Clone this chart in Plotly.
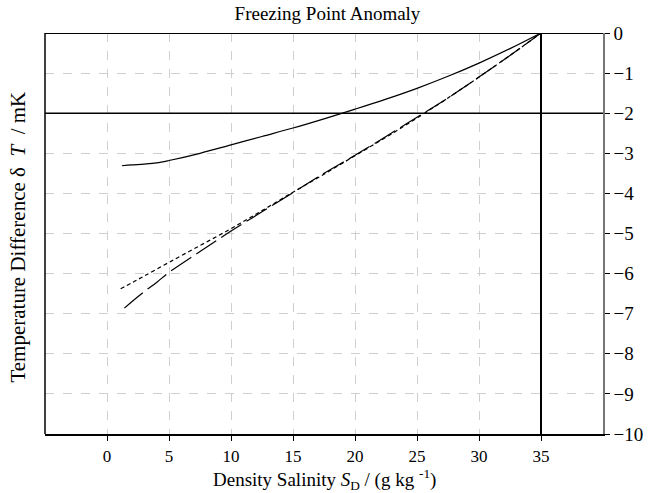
import plotly.graph_objects as go

# Data
x_solid = [1.2, 2, 3, 4, 5, 7.5, 10, 12.5, 15, 17.5, 20, 22.5, 25, 27.5, 30, 32.5, 35]
y_solid = [-3.31, -3.29, -3.27, -3.24, -3.18, -3.0, -2.79, -2.58, -2.37, -2.14, -1.90, -1.65, -1.38, -1.08, -0.75, -0.39, 0.0]

x_short = [1.1, 2, 3, 5, 7.5, 10, 12.5, 15, 17.5, 20, 22.5, 25, 27.5, 30, 32.5, 35]
y_short = [-6.38, -6.23, -6.06, -5.72, -5.30, -4.88, -4.43, -3.97, -3.52, -3.06, -2.60, -2.12, -1.62, -1.10, -0.56, 0.0]

x_long = [1.4, 2, 3, 4, 5, 7.5, 10, 12.5, 15, 17.5, 20, 22.5, 25, 27.5, 30, 32.5, 35]
y_long = [-6.86, -6.70, -6.45, -6.22, -5.97, -5.45, -4.94, -4.46, -3.98, -3.50, -3.05, -2.58, -2.10, -1.62, -1.10, -0.56, 0.0]

x_ticks = [0, 5, 10, 15, 20, 25, 30, 35]
y_ticks = [0, -1, -2, -3, -4, -5, -6, -7, -8, -9, -10]

FONT = "Liberation Serif, Times New Roman, serif"

fig = go.Figure()
fig.add_trace(go.Scatter(x=x_solid, y=y_solid, mode="lines",
                         line=dict(color="black", width=1.2, shape="spline"), showlegend=False))
fig.add_trace(go.Scatter(x=x_short, y=y_short, mode="lines",
                         line=dict(color="black", width=1.2, dash="4px,3px", shape="spline"), showlegend=False))
fig.add_trace(go.Scatter(x=x_long, y=y_long, mode="lines",
                         line=dict(color="black", width=1.2, dash="24px,6px", shape="spline"), showlegend=False))

# reference lines
fig.add_shape(type="line", xref="x", yref="y", x0=-5, x1=40, y0=-2, y1=-2,
              line=dict(color="black", width=1.5))
fig.add_shape(type="line", xref="x", yref="y", x0=-5, x1=40, y0=0, y1=0,
              line=dict(color="black", width=2))
fig.add_shape(type="line", xref="x", yref="y", x0=35, x1=35, y0=-10, y1=0,
              line=dict(color="black", width=2))
fig.add_shape(type="line", xref="paper", yref="paper", x0=0, x1=0, y0=0, y1=1,
              line=dict(color="black", width=1.5))

fig.update_layout(
    width=655, height=493,
    margin=dict(l=45, r=52, t=33, b=59),
    paper_bgcolor="white", plot_bgcolor="white",
    font=dict(family=FONT, size=19, color="black"),
    title=dict(text="Freezing Point Anomaly", x=0.5, xanchor="center", y=0.973, yanchor="middle",
               font=dict(family=FONT, size=19, color="black")),
    xaxis=dict(range=[-5, 40], tickvals=x_ticks, ticks="outside", ticklen=5, tickcolor="black",
               showgrid=True, gridcolor="#cfcfcf", griddash="dash", gridwidth=1,
               showline=True, linecolor="black", linewidth=1.5, zeroline=False, automargin=False,
               tickfont=dict(family=FONT, size=17), ticklabelstandoff=1),
    yaxis=dict(range=[-10, 0], tickvals=y_ticks, side="right", ticks="outside", ticklen=5,
               tickcolor="black", showgrid=True, gridcolor="#cfcfcf", griddash="dash", gridwidth=1,
               showline=True, linecolor="#777777", linewidth=1.5, zeroline=False, automargin=False,
               tickfont=dict(family=FONT, size=19)),
)
fig.add_annotation(text="Density Salinity <i>S</i><sub>D</sub> / (g kg <sup>-1</sup>)",
                   xref="paper", yref="paper", x=0.5, y=-0.149, showarrow=False,
                   xanchor="center", yanchor="bottom", borderpad=0,
                   font=dict(family=FONT, size=19, color="black"))
fig.add_annotation(text="Temperature Difference δ  <i>T</i>  / mK", xref="paper", yref="paper",
                   x=-0.05, y=0.49, textangle=-90, showarrow=False, xanchor="center", yanchor="middle",
                   font=dict(family=FONT, size=21, color="black"))

fig.write_html("out.html")
